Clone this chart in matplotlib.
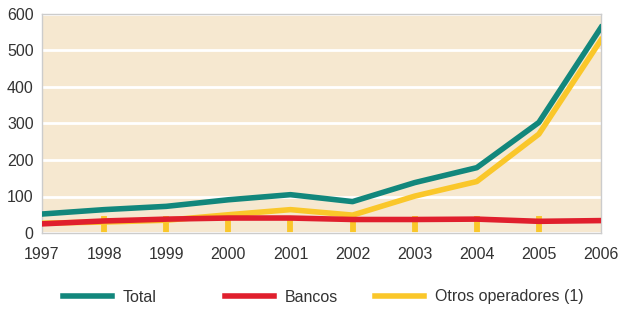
import matplotlib
matplotlib.use("Agg")
import matplotlib.pyplot as plt

# datos
anios = [1997, 1998, 1999, 2000, 2001, 2002, 2003, 2004, 2005, 2006]
total = [52, 64, 73, 91, 105, 86, 138, 179, 303, 563]
bancos = [25, 33, 38, 41, 41, 37, 37, 38, 32, 34]
otros = [27, 30, 35, 50, 64, 49, 101, 141, 271, 529]

verde = "#12877c"
rojo = "#e01f2d"
amarillo = "#fac72a"
fondo = "#f6e8d0"
texto = "#333333"
tam = 11.5

plt.rcParams['font.family'] = ['Liberation Sans', 'DejaVu Sans']

fig = plt.figure(figsize=(6.21, 3.11), dpi=100)
ax = fig.add_axes([42/621, 1 - 233/311, (601 - 42)/621, (233 - 14)/311])
ax.set_facecolor(fondo)

l_otros, = ax.plot(anios, otros, color=amarillo, lw=4, zorder=3)
l_total, = ax.plot(anios, total, color=verde, lw=4, zorder=4)
l_bancos, = ax.plot(anios, bancos, color=rojo, lw=4, zorder=5)

ax.set_xlim(1997, 2006)
ax.set_ylim(0, 600)
ax.set_xticks(anios)
ax.set_yticks(range(0, 601, 100))

#lineas de la cuadricula en blanco
ax.grid(axis='y', color='white', lw=2)
ax.set_axisbelow(True)

for s in ax.spines.values():
    s.set_color("#cccccc")
    s.set_linewidth(1)

ax.tick_params(axis='x', direction='in', length=12, width=4.2, color=amarillo,
               labelsize=tam, labelcolor=texto, pad=10)
ax.tick_params(axis='y', length=0, labelsize=tam, labelcolor=texto, pad=6)
ticks = ax.xaxis.get_major_ticks()
ticks[0].tick1line.set_visible(False)
ticks[-1].tick1line.set_visible(False)

# leyenda: cada entrada en su columna
entradas = [(l_total, "Total", 63), (l_bancos, "Bancos", 225), (l_otros, "Otros operadores (1)", 375)]
for linea, nombre, xpx in entradas:
    leg = fig.legend([linea], [nombre], loc='center left',
                     bbox_to_anchor=(xpx/621, 1 - 297/311), frameon=False,
                     fontsize=tam, handlelength=3.05, handletextpad=0.7,
                     borderpad=0, borderaxespad=0, labelcolor=texto)

fig.savefig("out.png", dpi=100)
